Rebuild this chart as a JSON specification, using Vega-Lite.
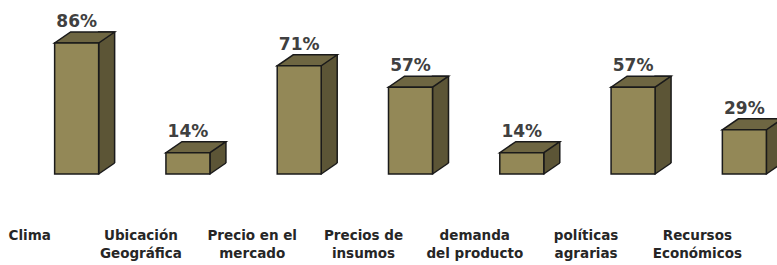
{
  "$schema": "https://vega.github.io/schema/vega-lite/v6.json",
  "width": 777,
  "height": 265,
  "autosize": "none",
  "padding": 0,
  "background": "white",
  "config": {"view": {"stroke": null}},
  "data": {"values": [
    {"cat": "Clima", "label": "Clima", "pct": 0.86},
    {"cat": "Ubicación Geográfica", "label": "Ubicación\nGeográfica", "pct": 0.14},
    {"cat": "Precio en el mercado", "label": "Precio en el\nmercado", "pct": 0.71},
    {"cat": "Precios de insumos", "label": "Precios de\ninsumos", "pct": 0.57},
    {"cat": "demanda del producto", "label": "demanda\ndel producto", "pct": 0.14},
    {"cat": "políticas agrarias", "label": "políticas\nagrarias", "pct": 0.57},
    {"cat": "Recursos Económicos", "label": "Recursos\nEconómicos", "pct": 0.29}
  ]},
  "encoding": {
    "x": {"field": "cat", "type": "nominal", "sort": null, "axis": null,
          "scale": {"range": [21, 800], "paddingInner": 0, "paddingOuter": 0}}
  },
  "layer": [
    {
      "mark": {"type": "bar", "width": 16, "xOffset": 30, "yOffset": -11, "fill": "#5c5536", "stroke": "#1a1a1a", "strokeWidth": 1.5},
      "encoding": {
        "y": {"field": "pct", "type": "quantitative", "axis": null, "scale": {"domain": [0, 0.86], "range": [174, 43], "nice": false, "zero": true}},
        "y2": {"datum": 0}
      }
    },
    {
      "mark": {"type": "point", "shape": "M22,0L38,-11L41,-11L41,3L22,3Z", "size": 4, "filled": true, "fill": "white", "strokeWidth": 0, "opacity": 1},
      "encoding": {"y": {"datum": 0, "type": "quantitative"}}
    },
    {
      "mark": {"type": "point", "shape": "M22,0L38,-11", "size": 4, "filled": false, "stroke": "#1a1a1a", "strokeWidth": 1.5, "opacity": 1},
      "encoding": {"y": {"datum": 0, "type": "quantitative"}}
    },
    {
      "mark": {"type": "point", "shape": "M-22,0L22,0L38,-11L-6,-11Z", "size": 4, "filled": true, "fill": "#6e6642", "stroke": "#1a1a1a", "strokeWidth": 1.5, "opacity": 1},
      "encoding": {"y": {"field": "pct", "type": "quantitative"}}
    },
    {
      "mark": {"type": "bar", "width": 44, "fill": "#938857", "stroke": "#1a1a1a", "strokeWidth": 1.5},
      "encoding": {
        "y": {"field": "pct", "type": "quantitative"},
        "y2": {"datum": 0}
      }
    },
    {
      "mark": {"type": "text", "dy": -16, "baseline": "alphabetic", "align": "center", "font": "DejaVu Sans", "fontWeight": "bold", "fontSize": 17, "color": "#404040"},
      "encoding": {
        "y": {"field": "pct", "type": "quantitative"},
        "text": {"field": "pct", "type": "quantitative", "format": ".0%"}
      }
    },
    {
      "mark": {"type": "text", "dy": 66, "xOffset": -47, "baseline": "alphabetic", "align": "center", "lineBreak": "\n", "lineHeight": 18, "font": "DejaVu Sans", "fontWeight": "bold", "fontSize": 13.5, "color": "#262626"},
      "encoding": {
        "y": {"datum": 0, "type": "quantitative"},
        "text": {"field": "label", "type": "nominal"}
      }
    }
  ]
}
